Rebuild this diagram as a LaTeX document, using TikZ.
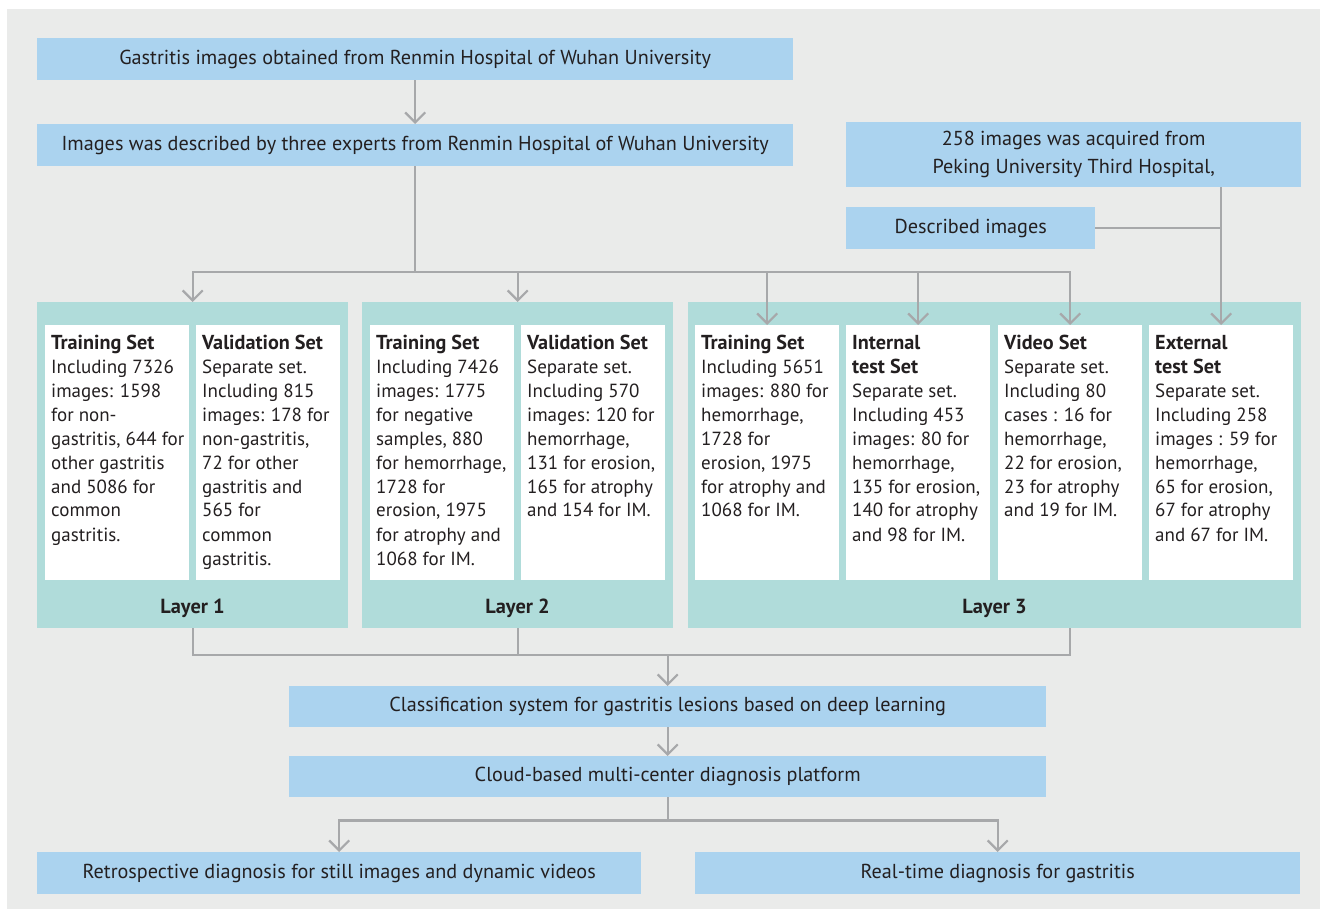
\documentclass[tikz,border=0pt]{standalone}
\usepackage{fontspec}
\setmainfont{PT Sans}
\usetikzlibrary{arrows.meta}
\definecolor{bgc}{HTML}{EAEBEA}
\definecolor{boxblue}{HTML}{ABD3EF}
\definecolor{panelc}{HTML}{B0DCDA}
\definecolor{linec}{HTML}{A7A8AA}
\definecolor{textc}{HTML}{231F20}
\newcommand\fs{\fontsize{19pt}{24pt}\selectfont}
\newcommand\bfs{\fontsize{20.2pt}{24pt}\selectfont}
\newcommand\cellbox[2]{\parbox[t][241pt][t]{140pt}{\raggedright\leftskip4pt\strut{\bfs\bfseries #1}\\#2}}
\tikzset{
  bluebox/.style={fill=boxblue, draw=none, inner sep=0pt, anchor=north west, text=textc, font=\fontsize{20.2pt}{28pt}\selectfont, align=center},
  panel/.style={fill=panelc, draw=none, inner sep=0pt, anchor=north west},
  whitebox/.style={fill=white, draw=none, inner xsep=2pt, inner ysep=7pt, anchor=north west, minimum width=144pt, minimum height=255pt, text=textc, font=\fs},
  layerlabel/.style={text=textc, font=\fontsize{20.4pt}{24pt}\selectfont\bfseries, inner sep=0pt},
  conn/.style={draw=linec, line width=2.2pt},
  arr/.style={conn, -{Straight Barb[length=10pt,width=20pt]}},
}
\begin{document}
\begin{tikzpicture}[x=1pt,y=-1pt]
\useasboundingbox (0,0) rectangle (1320,909);
\fill[bgc] (7,9) rectangle (1320,909);

% top boxes
\node[bluebox, minimum width=756pt, minimum height=42pt] (src) at (37,38) {Gastritis images obtained from Renmin Hospital of Wuhan University};
\node[bluebox, minimum width=756pt, minimum height=42pt] (desc1) at (37,124) {Images was described by three experts from Renmin Hospital of Wuhan University};
\node[bluebox, minimum width=455pt, minimum height=65pt] (pk) at (846,122) {258 images was acquired from\\Peking University Third Hospital,};
\node[bluebox, minimum width=249pt, minimum height=42pt] (desc2) at (846,207) {Described images};

% layer panels
\node[panel, minimum width=311pt, minimum height=326pt] (l1) at (37,302) {};
\node[panel, minimum width=311pt, minimum height=326pt] (l2) at (362,302) {};
\node[panel, minimum width=613pt, minimum height=326pt] (l3) at (688,302) {};
\node[layerlabel] (lab1) at (192.5,608) {Layer 1};
\node[layerlabel] (lab2) at (517.5,608) {Layer 2};
\node[layerlabel] (lab3) at (994.5,608) {Layer 3};

% set boxes
\node[whitebox] (t1) at (45,325) {\cellbox{Training Set}{Including 7326\\images: 1598\\for non-\\gastritis, 644 for\\other gastritis\\and 5086 for\\common\\gastritis.}};
\node[whitebox] (v1) at (196,325) {\cellbox{Validation Set}{Separate set.\\Including 815\\images: 178 for\\non-gastritis,\\72 for other\\gastritis and\\565 for\\common\\gastritis.}};
\node[whitebox] (t2) at (370,325) {\cellbox{Training Set}{Including 7426\\images: 1775\\for negative\\samples, 880\\for hemorrhage,\\1728 for\\erosion, 1975\\for atrophy and\\1068 for IM.}};
\node[whitebox] (v2) at (521,325) {\cellbox{Validation Set}{Separate set.\\Including 570\\images: 120 for\\hemorrhage,\\131 for erosion,\\165 for atrophy\\and 154 for IM.}};
\node[whitebox] (t3) at (695,325) {\cellbox{Training Set}{Including 5651\\images: 880 for\\hemorrhage,\\1728 for\\erosion, 1975\\for atrophy and\\1068 for IM.}};
\node[whitebox] (in3) at (846,325) {\cellbox{Internal\\test Set}{Separate set.\\Including 453\\images: 80 for\\hemorrhage,\\135 for erosion,\\140 for atrophy\\and 98 for IM.}};
\node[whitebox] (vi3) at (998,325) {\cellbox{Video Set}{Separate set.\\Including 80\\cases : 16 for\\hemorrhage,\\22 for erosion,\\23 for atrophy\\and 19 for IM.}};
\node[whitebox] (ex3) at (1149,325) {\cellbox{External\\test Set}{Separate set.\\Including 258\\images : 59 for\\hemorrhage,\\65 for erosion,\\67 for atrophy\\and 67 for IM.}};

% lower boxes
\node[bluebox, minimum width=757pt, minimum height=41pt] (cls) at (289,686) {Classification system for gastritis lesions based on deep learning};
\node[bluebox, minimum width=757pt, minimum height=41pt] (cloud) at (289,756) {Cloud-based multi-center diagnosis platform};
\node[bluebox, minimum width=604pt, minimum height=42pt] (retro) at (37,852) {Retrospective diagnosis for still images and dynamic videos};
\node[bluebox, minimum width=605pt, minimum height=42pt] (rt) at (695,852) {Real-time diagnosis for gastritis};

% connectors, top
\draw[arr] (src.south) -- (desc1.north);
\path (desc1.south) ++(0,106) coordinate (j1);
\draw[conn] (desc1.south) -- (j1);
\draw[arr] (j1) -| (l1.north);
\draw[arr] (j1) -| (l2.north);
\draw[arr] (j1) -| (t3.north);
\draw[arr] (j1) -| (in3.north);
\draw[arr] (j1) -| (vi3.north);
\draw[arr] (ex3.north |- pk.south) -- (ex3.north);
\draw[conn] (desc2.east) -- (desc2.east -| ex3.north);

% connectors, bottom
\path (cls.north) ++(0,-31) coordinate (j2);
\draw[conn] (l1.south) |- (j2);
\draw[conn] (l2.south) |- (j2);
\draw[conn] (vi3.south |- l3.south) |- (j2);
\draw[arr] (j2) -- (cls.north);
\draw[arr] (cls.south) -- (cloud.north);
\path (cloud.south) ++(0,23) coordinate (j3);
\draw[conn] (cloud.south) -- (j3);
\draw[arr] (j3) -| (retro.north);
\draw[arr] (j3) -| (rt.north);
\end{tikzpicture}
\end{document}
